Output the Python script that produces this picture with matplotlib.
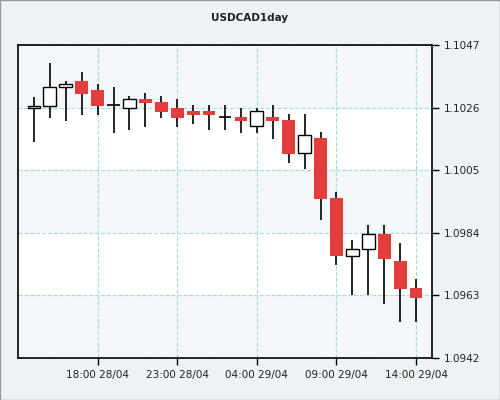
import matplotlib

matplotlib.use("Agg")
import matplotlib.pyplot as plt

# hourly candles, 14:00 28/04 -> 14:00 29/04
OPEN = [1.10258, 1.10266, 1.10328, 1.10349, 1.10319, 1.10268, 1.10258, 1.10289, 1.10278,
        1.10259, 1.10249, 1.10249, 1.10227, 1.10228, 1.10197, 1.10228, 1.10218, 1.10107,
        1.10158, 1.09957, 1.09763, 1.09785, 1.09835, 1.09744, 1.09654]
HIGH = [1.10297, 1.10409, 1.10348, 1.10378, 1.10338, 1.10328, 1.10298, 1.10309, 1.10298,
        1.10288, 1.10268, 1.10268, 1.10268, 1.10258, 1.10258, 1.10268, 1.10239, 1.10239,
        1.10178, 1.09976, 1.09815, 1.09865, 1.09865, 1.09805, 1.09684]
LOW = [1.10146, 1.10226, 1.10216, 1.10236, 1.10236, 1.10176, 1.10186, 1.10196, 1.10226,
       1.10196, 1.10206, 1.10186, 1.10186, 1.10176, 1.10176, 1.10156, 1.10075, 1.10055,
       1.09884, 1.09733, 1.09632, 1.09632, 1.09602, 1.09542, 1.09542]
CLOSE = [1.10266, 1.10328, 1.10338, 1.10307, 1.10266, 1.10268, 1.10288, 1.10276, 1.10246,
         1.10226, 1.10236, 1.10236, 1.10227, 1.10216, 1.10248, 1.10216, 1.10105, 1.10167,
         1.09954, 1.09763, 1.09785, 1.09835, 1.09753, 1.09653, 1.09622]
YTICKS = [1.0942, 1.0963, 1.0984, 1.1005, 1.1026, 1.1047]
XTICK_POS = [4, 9, 14, 19, 24]
XTICK_LABELS = ["18:00 28/04", "23:00 28/04", "04:00 29/04", "09:00 29/04", "14:00 29/04"]

RED = "#e33d3d"
BAND = "#f3f7f9"
GRID = "#a9d9e1"

fig = plt.figure(figsize=(5, 4), dpi=100, facecolor="#eef2f4")
ax = fig.add_axes([0.036, 0.105, 0.828, 0.7825])
ax.set_facecolor("white")

# alternating horizontal bands
for lo, hi in zip(YTICKS[0::2], YTICKS[1::2]):
    ax.axhspan(lo, hi, color=BAND, zorder=0, lw=0)

w = 0.8
for i, (o, h, l, c) in enumerate(zip(OPEN, HIGH, LOW, CLOSE)):
    ax.vlines(i, l, h, color="black", lw=1.2, zorder=2)
    bottom, top = min(o, c), max(o, c)
    if c > o:
        ax.bar(i, top - bottom, w, bottom=bottom, facecolor="white",
               edgecolor="black", lw=1.0, zorder=3)
    elif c < o:
        ax.bar(i, top - bottom, w, bottom=bottom, color=RED, lw=0, zorder=3)
    else:
        ax.hlines(o, i - w / 2, i + w / 2, color="black", lw=1.2, zorder=3)

ax.set_xlim(-1, 25)
ax.set_ylim(YTICKS[0], YTICKS[-1])
ax.yaxis.tick_right()
ax.set_yticks(YTICKS)
ax.set_yticklabels([f"{v:.4f}" for v in YTICKS], fontsize=7.5)
ax.set_xticks(XTICK_POS)
ax.set_xticklabels(XTICK_LABELS, fontsize=7.5)
ax.tick_params(length=5, width=1, colors="black", labelcolor="#222222")
ax.grid(True, color=GRID, ls="--", lw=0.8, zorder=1)
ax.set_axisbelow(True)
for s in ["top", "right", "left", "bottom"]:
    ax.spines[s].set_linewidth(1.2)

fig.text(0.5, 0.955, "USDCAD1day", ha="center", va="center", fontsize=7.5,
         weight="bold", color="#222222")
fig.patches.append(plt.Rectangle((0, 0), 1, 1, transform=fig.transFigure,
                                 fill=False, edgecolor="#999999", lw=1))
fig.savefig("out.png", dpi=100, facecolor=fig.get_facecolor())
